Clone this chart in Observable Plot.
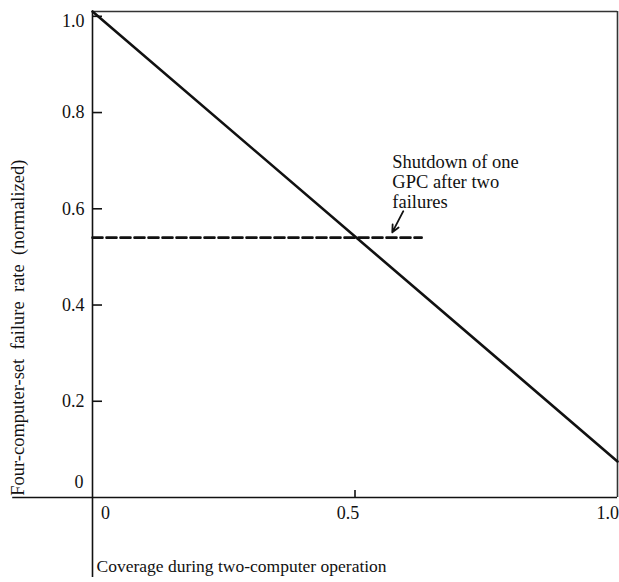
<!DOCTYPE html>
<html>
<head>
<meta charset="utf-8">
<script src="https://cdn.jsdelivr.net/npm/d3@7"></script>
<script src="https://cdn.jsdelivr.net/npm/@observablehq/plot@0.6"></script>
<style>
  html, body { margin: 0; padding: 0; background: #fff; }
  #chart svg { display: block; }
</style>
</head>
<body>
<div id="chart"></div>
<script>
// Data
const coverage = [0, 1.0];                 // x: coverage during two-computer operation
const failureRate = [1.01, 0.075];         // y: normalized four-computer-set failure rate
const shutdownCoverage = [0, 0.627];       // dashed reference extent
const shutdownRate = [0.54, 0.54];         // shutdown of one GPC after two failures
const yTickValues = [0.2, 0.4, 0.6, 0.8, 1.0];
const yTickLabels = ["0.2", "0.4", "0.6", "0.8"];
const xTickValues = [0.5];
const annotationText = "Shutdown of one\nGPC after two\nfailures";
const annotationPos = [0.571, 0.713];
const arrowFrom = [0.592, 0.595];
const arrowTo = [0.571, 0.551];
const yAxisTitle = "Four-computer-set  failure  rate  (normalized)";
const xAxisTitle = "Coverage during two-computer operation";
const axisExtent = { xLeft: -0.152, yBottom: -0.166 };

const line = coverage.map((x, i) => ({x, y: failureRate[i]}));
const dashed = shutdownCoverage.map((x, i) => ({x, y: shutdownRate[i]}));

const ink = "#111";
const font = "Liberation Serif, Times New Roman, serif";

const chart = Plot.plot({
  width: 619,
  height: 582,
  marginLeft: 92,
  marginRight: 2,
  marginTop: 11,
  marginBottom: 85,
  x: {domain: [0, 1], axis: null},
  y: {domain: [0, 1.01], axis: null},
  style: {fontFamily: font, fontSize: "18px", background: "#fff", color: ink},
  marks: [
    // frame top and right
    Plot.ruleY([1.01], {x1: 0, x2: 1, stroke: "#333", strokeWidth: 1.6}),
    Plot.ruleX([1], {y1: 0, y2: 1.01, stroke: "#333", strokeWidth: 1.6}),
    // axes lines extending past the frame
    Plot.ruleX([0], {y1: axisExtent.yBottom, y2: 1.01, stroke: ink, strokeWidth: 1.6}),
    Plot.ruleY([0], {x1: axisExtent.xLeft, x2: 1, stroke: ink, strokeWidth: 1.6}),
    // inward ticks
    Plot.tickY(yTickValues, {insetRight: 515, stroke: ink, strokeWidth: 1.6}),
    Plot.tickX(xTickValues, {insetTop: 479, stroke: ink, strokeWidth: 1.6}),
    // y tick labels
    Plot.text(yTickLabels, {x: 0, y: d => +d, text: d => d, textAnchor: "end", dx: -8, fontSize: 18, fill: ink}),
    Plot.text(["1.0"], {x: 0, y: 1.0, text: d => d, textAnchor: "end", dx: -8, dy: 5, fontSize: 18, fill: ink}),
    Plot.text(["0"], {x: 0, y: 0, text: d => d, textAnchor: "end", dx: -9, dy: -15, fontSize: 18, fill: ink}),
    // x tick labels
    Plot.text(["0"], {x: 0, y: 0, text: d => d, dx: 13, dy: 16, fontSize: 18, fill: ink}),
    Plot.text(["0.5"], {x: 0.5, y: 0, text: d => d, dx: -7, dy: 16, fontSize: 18, fill: ink}),
    Plot.text(["1.0"], {x: 1, y: 0, text: d => d, textAnchor: "start", dx: -21, dy: 16, fontSize: 18, fill: ink}),
    // data lines
    Plot.line(dashed, {x: "x", y: "y", stroke: ink, strokeWidth: 2.6, strokeDasharray: "10,4"}),
    Plot.line(line, {x: "x", y: "y", stroke: ink, strokeWidth: 2.6}),
    // annotation
    Plot.text([annotationText], {x: annotationPos[0], y: annotationPos[1], text: d => d, textAnchor: "start", lineAnchor: "top", lineHeight: 1.06, fontSize: 18.5, fill: ink}),
    Plot.arrow([0], {x1: arrowFrom[0], y1: arrowFrom[1], x2: arrowTo[0], y2: arrowTo[1], stroke: ink, strokeWidth: 1.8, headLength: 9, headAngle: 50}),
    // axis titles
    Plot.text([yAxisTitle], {frameAnchor: "left", y: 0.353, text: d => d, textAnchor: "middle", rotate: -90, dx: -74, fontSize: 18.5, fill: ink}),
    Plot.text([xAxisTitle], {frameAnchor: "bottom-left", text: d => d, textAnchor: "start", dx: 4, dy: 74, fontSize: 17.5, fill: ink})
  ]
});

document.getElementById("chart").appendChild(chart);
</script>
</body>
</html>
